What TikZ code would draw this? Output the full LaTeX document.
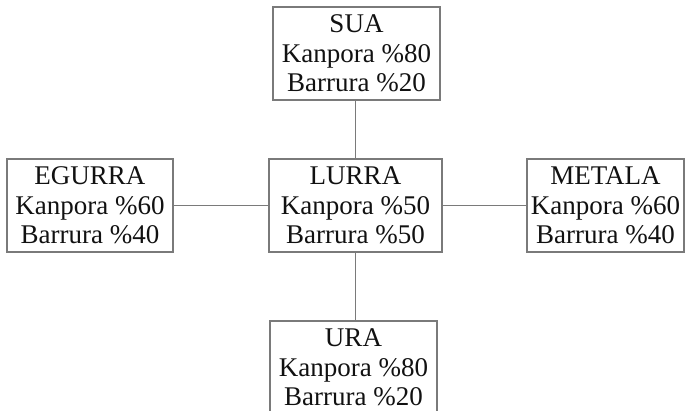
\documentclass[tikz,border=0pt]{standalone}
\usepackage{fontspec}
\setmainfont{Liberation Serif}
\begin{document}
\begin{tikzpicture}[x=1pt,y=-1pt,
  matbox/.style={draw=boxgray, line width=1.1pt, inner sep=0pt, align=center,
    minimum height=93pt, text=textdark,
    font=\fontsize{27}{29.5}\selectfont},
  link/.style={draw=boxgray, line width=1.2pt}]
\definecolor{boxgray}{HTML}{7A7A7A}
\definecolor{textdark}{HTML}{111111}
\clip (0,0) rectangle (686,411);
\useasboundingbox (0,0) rectangle (686,411);
% material boxes
\node[matbox, minimum width=167pt] (sua)    at (356.5,53.5)  {SUA\\Kanpora \%80\\Barrura \%20};
\node[matbox, minimum width=173pt] (lurra)  at (355.5,205.5) {LURRA\\Kanpora \%50\\Barrura \%50};
\node[matbox, minimum width=166pt] (egurra) at (90,205.5)    {EGURRA\\Kanpora \%60\\Barrura \%40};
\node[matbox, minimum width=157pt] (metala) at (605.5,205.5) {METALA\\Kanpora \%60\\Barrura \%40};
\node[matbox, minimum width=167pt] (ura)    at (353.5,367.5) {URA\\Kanpora \%80\\Barrura \%20};
% connectors
\draw[link] (lurra.north) -- (lurra.north |- sua.south);
\draw[link] (lurra.south) -- (lurra.south |- ura.north);
\draw[link] (lurra.west) -- (egurra.east);
\draw[link] (lurra.east) -- (metala.west);
\end{tikzpicture}
\end{document}
